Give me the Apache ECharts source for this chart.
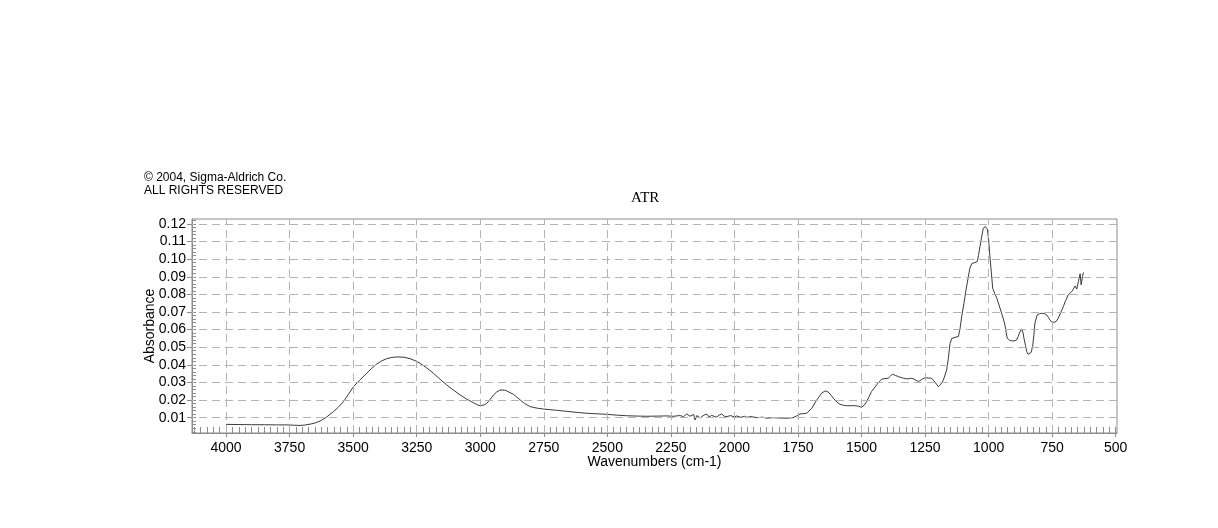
<!DOCTYPE html>
<html><head><meta charset="utf-8">
<script src="https://cdn.jsdelivr.net/npm/echarts@6/dist/echarts.min.js"></script>
<style>html,body{margin:0;padding:0;background:#fff}#c{width:1218px;height:528px}</style>
</head><body><div id="c"></div>
<script>
const wavenumbers = [4000,3950,3900,3850,3800,3761,3730,3709,3690,3670,3650,3630,3605,3578,3558,3538,3520,3499,3473,3447,3427,3407,3387,3368,3348,3328,3300,3276,3257,3237,3210,3184,3158,3132,3105,3079,3053,3027,3010,3001,2985,2974,2960,2948,2935,2922,2905,2896,2883,2870,2857,2843,2825,2804,2780,2752,2700,2660,2620,2581,2540,2502,2460,2424,2380,2345,2300,2266,2240,2214,2200,2188,2175,2168,2160,2155,2148,2142,2135,2129,2120,2109,2100,2090,2083,2070,2060,2050,2040,2030,2015,2000,1991,1975,1960,1952,1935,1910,1890,1873,1850,1820,1794,1770,1755,1742,1716,1696,1676,1657,1643,1631,1620,1611,1598,1585,1570,1559,1540,1526,1512,1500,1490,1480,1470,1461,1450,1441,1431,1421,1408,1395,1387,1379,1367,1355,1340,1322,1310,1302,1290,1276,1262,1250,1236,1224,1210,1198,1188,1178,1165,1159,1152,1145,1138,1128,1119,1112,1106,1097,1089,1081,1074,1066,1060,1045,1040,1034,1027,1021,1013,1005,1000,995,989,984,976,968,958,949,942,936,931,927,918,909,900,890,884,879,870,865,861,855,850,845,840,833,827,822,818,809,800,791,780,772,765,759,750,743,735,726,716,706,697,687,680,673,667,660,653,647,640,636,631,627];
const absorbance = [0.0062,0.0061,0.0060,0.0060,0.0059,0.0059,0.0057,0.0056,0.0058,0.0063,0.0070,0.0081,0.0103,0.0134,0.0160,0.0191,0.0230,0.0276,0.0315,0.0352,0.0380,0.0405,0.0423,0.0435,0.0442,0.0445,0.0443,0.0435,0.0424,0.0409,0.0382,0.0352,0.0318,0.0286,0.0256,0.0229,0.0205,0.0185,0.0172,0.0168,0.0172,0.0182,0.0205,0.0229,0.0246,0.0257,0.0256,0.0252,0.0242,0.0233,0.0218,0.0201,0.0180,0.0163,0.0155,0.0149,0.0142,0.0136,0.0130,0.0125,0.0122,0.0119,0.0114,0.0111,0.0109,0.0108,0.0109,0.0110,0.0108,0.0112,0.0106,0.0121,0.0108,0.0110,0.0118,0.0087,0.0112,0.0116,0.0099,0.0098,0.0114,0.0121,0.0104,0.0113,0.0110,0.0103,0.0115,0.0121,0.0108,0.0106,0.0112,0.0104,0.0110,0.0102,0.0108,0.0102,0.0106,0.0100,0.0103,0.0097,0.0100,0.0098,0.0097,0.0100,0.0110,0.0121,0.0125,0.0153,0.0201,0.0239,0.0252,0.0246,0.0228,0.0210,0.0190,0.0176,0.0170,0.0168,0.0168,0.0168,0.0165,0.0159,0.0170,0.0191,0.0220,0.0248,0.0268,0.0286,0.0303,0.0318,0.0322,0.0324,0.0335,0.0347,0.0340,0.0333,0.0326,0.0320,0.0322,0.0324,0.0316,0.0305,0.0318,0.0327,0.0325,0.0324,0.0300,0.0276,0.0290,0.0314,0.0371,0.0430,0.0520,0.0550,0.0556,0.0558,0.0560,0.0610,0.0674,0.0750,0.0826,0.0890,0.0949,0.0975,0.0981,0.0986,0.1020,0.1072,0.1130,0.1176,0.1185,0.1170,0.1110,0.1015,0.0920,0.0835,0.0805,0.0778,0.0735,0.0693,0.0660,0.0627,0.0585,0.0551,0.0540,0.0536,0.0536,0.0541,0.0560,0.0580,0.0604,0.0585,0.0551,0.0510,0.0475,0.0460,0.0452,0.0470,0.0503,0.0570,0.0636,0.0684,0.0690,0.0693,0.0690,0.0684,0.0670,0.0655,0.0640,0.0632,0.0645,0.0665,0.0698,0.0731,0.0765,0.0797,0.0805,0.0816,0.0830,0.0848,0.0830,0.0873,0.0917,0.0854,0.0901,0.0924];
const xTickLabels = [4000,3750,3500,3250,3000,2750,2500,2250,2000,1750,1500,1250,1000,750,500];
const yTickLabels = [0.01,0.02,0.03,0.04,0.05,0.06,0.07,0.08,0.09,0.10,0.11,0.12];
const xMinorTicks = [];
for (let v = 500; v <= 4125; v += 25) xMinorTicks.push(v);
const yMinorTicks = [];
for (let i = 1; i <= 61; i++) yMinorTicks.push(+(i * 0.002).toFixed(3));

const X_MIN = 495, X_MAX = 4134, Y_MIN = 0.0013, Y_MAX = 0.1228;
const axisGrey = '#8c8c8c';
const gridGrey = '#b4b4b4';
const sans = '"Liberation Sans", Arial, sans-serif';

const chart = echarts.init(document.getElementById('c'), null, {renderer: 'canvas'});
chart.setOption({
  animation: false,
  backgroundColor: '#ffffff',
  title: [
    {text: '© 2004, Sigma-Aldrich Co.\nALL RIGHTS RESERVED', left: 144, top: 171, padding: 0,
     textStyle: {fontSize: 12, fontWeight: 'normal', color: '#000', fontFamily: sans, lineHeight: 13}},
    {text: 'ATR', left: 631, top: 191, padding: 0,
     textStyle: {fontSize: 15, fontWeight: 'normal', color: '#000', fontFamily: '"Liberation Serif", "Times New Roman", serif'}}
  ],
  grid: {left: 192, right: 101, top: 219, bottom: 95, show: true, borderColor: axisGrey, borderWidth: 1, containLabel: false},
  xAxis: [
    {type: 'value', inverse: true, min: X_MIN, max: X_MAX, position: 'bottom',
     name: 'Wavenumbers (cm-1)', nameLocation: 'middle', nameGap: 22, nameMoveOverlap: false,
     nameTextStyle: {fontSize: 14, color: '#000', fontFamily: sans},
     axisLine: {show: true, onZero: false, lineStyle: {color: axisGrey, width: 1}},
     axisTick: {show: true, customValues: xTickLabels, length: 4, inside: false, lineStyle: {color: axisGrey}},
     axisLabel: {customValues: xTickLabels, color: '#000', fontSize: 14, fontFamily: sans, margin: 8,
                 formatter: v => String(Math.round(v))},
     splitLine: {show: false}},
    {type: 'value', inverse: true, min: X_MIN, max: X_MAX, position: 'bottom',
     axisLine: {show: false, onZero: false},
     axisTick: {show: true, customValues: xMinorTicks, length: 6, inside: true, lineStyle: {color: axisGrey}},
     axisLabel: {show: false},
     splitLine: {show: false}}
  ],
  yAxis: [
    {type: 'value', min: Y_MIN, max: Y_MAX, position: 'left',
     name: 'Absorbance', nameLocation: 'middle', nameGap: 35, nameRotate: 90, nameMoveOverlap: false,
     nameTextStyle: {fontSize: 14, color: '#000', fontFamily: sans},
     axisLine: {show: true, onZero: false, lineStyle: {color: axisGrey, width: 1}},
     axisTick: {show: true, customValues: yTickLabels, length: 5, inside: false, lineStyle: {color: axisGrey}},
     axisLabel: {customValues: yTickLabels, color: '#000', fontSize: 14, fontFamily: sans, margin: 6,
                 formatter: v => v.toFixed(2)},
     splitLine: {show: false}},
    {type: 'value', min: Y_MIN, max: Y_MAX, position: 'left',
     axisLine: {show: false, onZero: false},
     axisTick: {show: true, customValues: yMinorTicks, length: 4, inside: true, lineStyle: {color: axisGrey}},
     axisLabel: {show: false},
     splitLine: {show: false}}
  ],
  series: [{
    type: 'line',
    xAxisIndex: 0, yAxisIndex: 0,
    data: wavenumbers.map((w, i) => [w, absorbance[i]]),
    showSymbol: false,
    symbol: 'none',
    lineStyle: {color: '#3a3a3a', width: 1},
    z: 3,
    markLine: {
      silent: true, symbol: 'none', label: {show: false}, animation: false,
      lineStyle: {color: gridGrey, type: [8, 5], width: 1},
      data: xTickLabels.filter(v => v !== 500).map(v => ({xAxis: v}))
        .concat(yTickLabels.map(v => ({yAxis: v})))
    }
  }]
});
</script>
</body></html>
